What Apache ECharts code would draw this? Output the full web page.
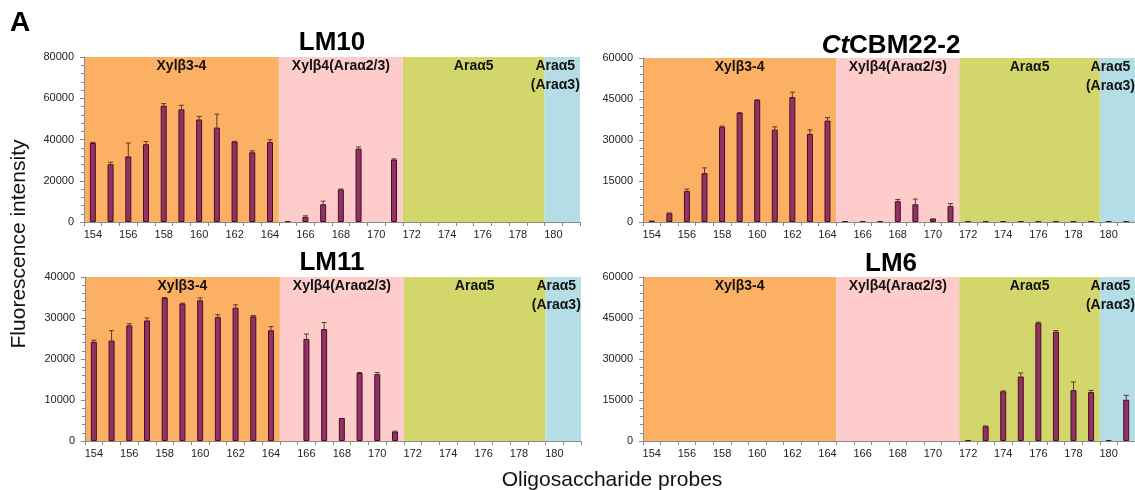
<!DOCTYPE html>
<html><head><meta charset="utf-8">
<script src="https://cdn.jsdelivr.net/npm/echarts@6/dist/echarts.min.js"></script>
<style>html,body{margin:0;padding:0;background:#fff}#c{width:1135px;height:490px}</style>
</head><body><div id="c"></div>
<script>
// ---------- data ----------
const probes = ['154','155','156','157','158','159','160','161','162','163','164','165','166','167',
  '168','169','170','171','172','173','174','175','176','177','178','179','180','181'];
const bandNames = ['Xylβ3-4', 'Xylβ4(Araα2/3)', 'Araα5', 'Araα5\n(Araα3)'];
const bandFirst = ['154', '165', '172', '180'];
const bandLast  = ['164', '171', '179', '181'];
const panelTitles = ['LM10', 'CtCBM22-2', 'LM11', 'LM6'];

const lm10    = [38300,28000,31800,37700,56400,54600,49700,45800,39000,33800,38800,400,2500,8600,15800,35600,0,30300,0,0,0,0,0,0,0,0,0,0];
const lm10Err = [300,1000,6500,1300,1000,2000,1500,6500,100,700,1100,0,500,1500,200,800,0,300,0,0,0,0,0,0,0,0,0,0];
const ctcbm    = [500,3200,11300,17900,34800,39900,44600,33800,45700,32200,37100,200,250,250,7600,6500,1300,5900,200,200,200,200,200,200,200,200,200,200];
const ctcbmErr = [0,100,750,1900,300,100,100,1000,1800,1500,1100,0,0,0,650,1900,0,850,0,0,0,0,0,0,0,0,0,0];
const lm11    = [24200,24500,28200,29400,34900,33500,34300,30200,32500,30400,27000,0,24900,27300,5600,16600,16300,2300,0,0,0,0,0,0,0,0,0,0];
const lm11Err = [400,2400,400,600,100,100,600,600,700,200,900,0,1200,1600,0,100,400,100,0,0,0,0,0,0,0,0,0,0];
const lm6    = [0,0,0,0,0,0,0,0,0,0,0,0,0,0,0,0,0,0,300,5400,18200,23600,43200,40000,18600,17900,300,15100];
const lm6Err = [0,0,0,0,0,0,0,0,0,0,0,0,0,0,0,0,0,0,0,100,100,1300,300,400,3000,600,0,1600];

const yMax  = [80000, 60000, 40000, 60000];
const yStep = [20000, 15000, 10000, 15000];
const xTitle = 'Oligosaccharide probes';
const yTitle = 'Fluorescence intensity';
const panelLetter = 'A';

// ---------- styles / layout ----------
const FONT = "'Liberation Sans', Arial, sans-serif";
const bandColors = ['#FBB064', '#FFCCCC', '#D3D66B', '#B5DDE6'];
const barColor = '#933163', barBorder = '#3f1229', errColor = '#5c3b24', axisColor = '#8a8a8a';
const grids = [
  {left: 84,  top: 57,  width: 496, height: 165},
  {left: 643, top: 58,  width: 496, height: 164},
  {left: 85,  top: 277, width: 496, height: 164},
  {left: 643, top: 277, width: 496, height: 164}
];
const titlePos = [[332, 43], [891, 46], [332, 263], [891, 264]];
const panelValues = [lm10, ctcbm, lm11, lm6];
const panelErrs = [lm10Err, ctcbmErr, lm11Err, lm6Err];

const xAxes = [], yAxes = [], series = [];
grids.forEach((g, i) => {
  xAxes.push({
    type: 'category', gridIndex: i, data: probes, boundaryGap: true, z: 5,
    axisLine: {lineStyle: {color: axisColor, width: 1}},
    axisTick: {show: true, interval: 0, length: 4, lineStyle: {color: axisColor}},
    axisLabel: {interval: 1, fontSize: 11, color: '#222', margin: 7, fontFamily: FONT},
    splitLine: {show: false}
  });
  xAxes.push({type: 'value', gridIndex: i, min: 0, max: probes.length, show: false});
  yAxes.push({
    type: 'value', gridIndex: i, min: 0, max: yMax[i], interval: yStep[i], z: 5,
    axisLine: {show: true, lineStyle: {color: axisColor}},
    axisTick: {show: true, length: 4, lineStyle: {color: axisColor}},
    minorTick: {show: true, splitNumber: 5, length: 3, lineStyle: {color: axisColor}},
    splitLine: {show: false},
    axisLabel: {fontSize: 11, color: '#222', margin: 10, fontFamily: FONT,
      formatter: v => String(v)}
  });
  const bandData = bandNames.map((n, k) => [probes.indexOf(bandFirst[k]), probes.indexOf(bandLast[k]) + 1, k]);
  series.push({
    type: 'custom', xAxisIndex: 2 * i + 1, yAxisIndex: i, z: 0, silent: true,
    data: bandData,
    renderItem: (params, api) => {
      const cs = params.coordSys;
      const x0 = api.coord([api.value(0), 0])[0];
      const x1 = api.coord([api.value(1), 0])[0];
      const k = api.value(2);
      const w = x1 - x0;
      const shift = w < 50 ? -7 : 0;
      return {
        type: 'group',
        children: [
          {type: 'rect', shape: {x: x0, y: cs.y, width: w, height: cs.height},
           style: {fill: bandColors[k]}},
          {type: 'text', style: {text: bandNames[k], x: x0 + w / 2 + shift, y: cs.y + 0,
            align: 'center', verticalAlign: 'top', lineHeight: 19,
            font: 'bold 14px ' + FONT, fill: '#111'}}
        ]
      };
    }
  });
  series.push({
    type: 'bar', xAxisIndex: 2 * i, yAxisIndex: i, z: 3, barWidth: 6,
    data: panelValues[i].map(v => (v === 0 ? '-' : v)),
    itemStyle: {color: barColor, borderColor: barBorder, borderWidth: 1}
  });
  series.push({
    type: 'custom', xAxisIndex: 2 * i, yAxisIndex: i, z: 4, silent: true,
    data: panelValues[i].map((v, j) => [j, v, panelErrs[i][j]]),
    renderItem: (params, api) => {
      const e = api.value(2);
      if (!e) return null;
      const v = api.value(1);
      const p0 = api.coord([api.value(0), v]);
      const p1 = api.coord([api.value(0), v + e]);
      return {
        type: 'group',
        children: [
          {type: 'line', shape: {x1: p0[0], y1: p0[1], x2: p1[0], y2: p1[1]},
           style: {stroke: errColor, lineWidth: 1}},
          {type: 'line', shape: {x1: p1[0] - 2.5, y1: p1[1], x2: p1[0] + 2.5, y2: p1[1]},
           style: {stroke: errColor, lineWidth: 1}}
        ]
      };
    }
  });
});

const graphics = [
  {type: 'text', left: 10, top: 9, style: {text: panelLetter, font: 'bold 28px ' + FONT, fill: '#000'}},
  {type: 'text', x: 19, y: 244, rotation: Math.PI / 2,
   style: {text: yTitle, x: 0, y: 0, align: 'center', verticalAlign: 'middle', font: '21px ' + FONT, fill: '#111'}},
  {type: 'text', x: 612, y: 480,
   style: {text: xTitle, x: 0, y: 0, align: 'center', verticalAlign: 'middle', font: '21px ' + FONT, fill: '#111'}}
];
panelTitles.forEach((t, i) => {
  const m = t.match(/^(Ct)(.*)$/);
  graphics.push({
    type: 'text', x: titlePos[i][0], y: titlePos[i][1],
    style: {
      text: m ? '{it|' + m[1] + '}{b|' + m[2] + '}' : '{b|' + t + '}',
      x: 0, y: 0, align: 'center', verticalAlign: 'middle', fill: '#000',
      rich: {
        it: {font: 'italic bold 26px ' + FONT, fill: '#000'},
        b: {font: 'bold 26px ' + FONT, fill: '#000'}
      }
    }
  });
});

const chart = echarts.init(document.getElementById('c'), null, {renderer: 'canvas'});
chart.setOption({
  animation: false,
  backgroundColor: '#fff',
  textStyle: {fontFamily: FONT},
  grid: grids.map(g => Object.assign({containLabel: false}, g)),
  xAxis: xAxes,
  yAxis: yAxes,
  series: series,
  graphic: graphics
});
</script></body></html>
